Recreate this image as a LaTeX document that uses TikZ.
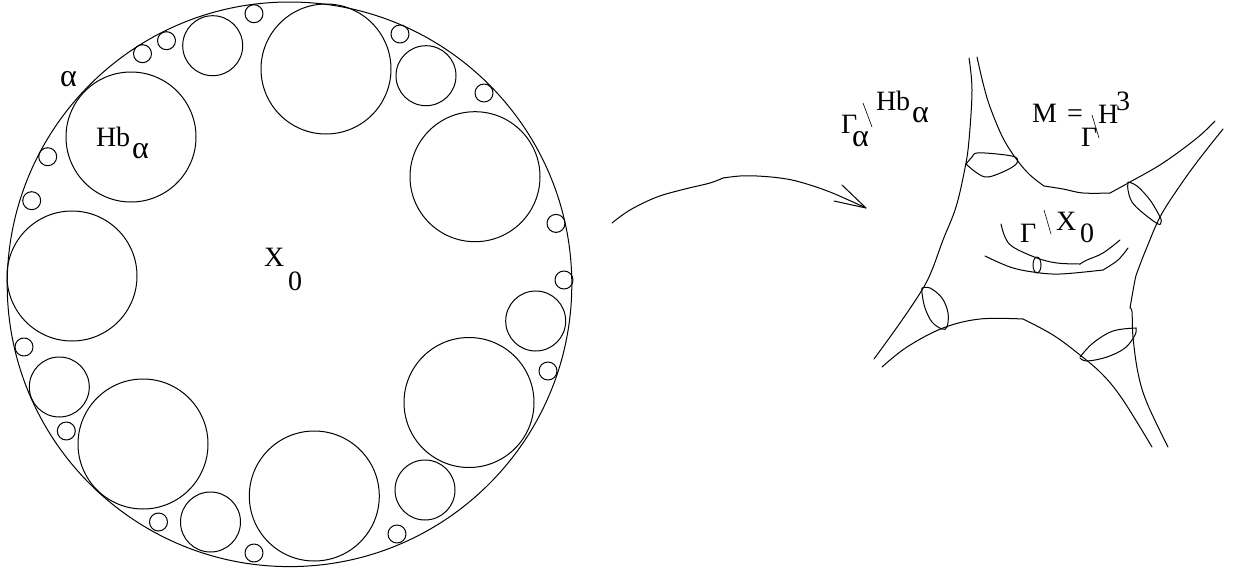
\documentclass[tikz,border=0pt]{standalone}
\usepackage{fontspec}
\setmainfont{Liberation Serif}
\newcommand{\ga}{\fontsize{32}{32}\selectfont α}
\tikzset{
  ln/.style={line width=1pt,line join=round,line cap=round,black},
  lbl/.style={anchor=base west,inner sep=0pt,outer sep=0pt,font=\fontsize{28}{28}\selectfont},
  cv/.style={ln,smooth,tension=0.6},
  slash/.style={line width=0.6pt,black},
}
\begin{document}
\begin{tikzpicture}[x=1pt,y=-1pt]
\useasboundingbox (0,0) rectangle (1235,573);
% disk
\draw[ln] (289.5,284.3) circle[radius=282.3];
\foreach \cx/\cy in {131/137,72/276,326/69,475/176.7,469/402.5,314.3/496,143/444}
  \draw[ln] (\cx,\cy) circle[radius=65];
\foreach \cx/\cy in {212.7/45.7,426/75.7,535.7/321,425/490,210.5/522,59.3/387}
  \draw[ln] (\cx,\cy) circle[radius=30];
\foreach \cx/\cy in {254/13.7,400/34,484/93,556/223.4,564/280,548/371,397/534,254/553,158.5/522,66.3/431,24/347,31.7/200.7,47.7/156.7,142.5/53.7,166.5/40.7}
  \draw[ln] (\cx,\cy) circle[radius=9];
% disk labels
\node[lbl] (alpha) at (60,86) {\ga};
\node[lbl] (hb) at (96,146) {Hb};
\node[lbl] (hbsub) at (132,158) {\ga};
\node[lbl] (x) at (264,266) {X};
\node[lbl] (xsub) at (288,290) {0};
% connector
\coordinate (s) at (612,223);
\coordinate (t) at (866,208);
\coordinate (b1) at (842,185);
\coordinate (b2) at (834,201);
\draw[cv] plot coordinates {(s) (630,210) (657,197) (685,189) (710,183) (723,178)};
\draw[cv] plot coordinates {(723,178) (740,176) (757,176) (780,178) (800,182) (830,192) (t)};
\draw[ln] (b1) -- (t) -- (b2);
% surface outline
\draw[cv] plot coordinates {(969,58) (972,90) (969,140) (965,168) (956,207) (943,240) (932,270) (922,290) (900,323) (874,359)};
\draw[cv] plot coordinates {(977,57) (983,83) (990,107) (1003,138) (1017,160) (1030,175) (1044,186)};
\draw[cv] plot coordinates {(1044,186) (1063,189) (1083,193) (1110,193)};
\draw[cv] plot coordinates {(1110,193) (1130,182) (1163,163) (1197,138) (1215,121)};
\draw[cv] plot coordinates {(1223,129) (1197,162) (1177,190) (1160,217) (1147,247) (1138,270) (1135,280) (1130,308)};
\draw[cv] plot coordinates {(1130,308) (1132,312) (1133,337) (1138,373) (1147,403) (1168,447)};
\draw[cv] plot coordinates {(882,367) (907,347) (943,328) (980,319) (1023,319)};
\draw[cv] plot coordinates {(1023,319) (1053,335) (1080,355) (1103,375) (1123,400) (1152,447)};
% cross sections
\draw[cv] plot coordinates {(966,164) (972,157) (977,153) (997,154) (1015,157) (1017,163) (1007,170) (988,177) (977,173) (966,164)};
\draw[cv] plot coordinates {(1128,182) (1137,186) (1150,200) (1160,217) (1161,222) (1158,224) (1143,213) (1132,202) (1128,190) (1128,182)};
\draw[cv] plot coordinates {(922,288) (930,288) (942,298) (948,313) (947,327) (942,329) (932,322) (925,308) (922,293) (922,288)};
\draw[cv] plot coordinates {(1080,357) (1093,343) (1113,331) (1136,328)};
\draw[cv] plot coordinates {(1136,328) (1135,335) (1125,348) (1107,357) (1087,361) (1080,358)};
% inner geodesic
\draw[cv] plot coordinates {(1001,224) (1005,237) (1013,247) (1037,258) (1057,263) (1080,264)};
\draw[cv] plot coordinates {(1080,264) (1087,260) (1103,253) (1120,240)};
\draw[cv] plot coordinates {(985,256) (1010,267) (1033,272) (1060,274) (1103,270)};
\draw[cv] plot coordinates {(1103,270) (1118,260) (1128,248)};
\draw[ln] (1037,265) ellipse[x radius=4,y radius=8];
% quotient labels
\node[lbl] (g1) at (841,133) {Γ};
\node[lbl] (g1s) at (852,146) {\ga};
\coordinate (q1a) at (863,103); \coordinate (q1b) at (872,127);
\draw[slash] (q1a) -- (q1b);
\node[lbl] (hb2) at (876,110) {Hb};
\node[lbl] (hb2s) at (912,122) {\ga};
\node[lbl] (m) at (1032,122) {M};
\node[lbl] (eq) at (1067,122) {=};
\node[lbl] (g2) at (1081,146) {Γ};
\coordinate (q2a) at (1092,115); \coordinate (q2b) at (1099,138);
\draw[slash] (q2a) -- (q2b);
\node[lbl] (h3) at (1098,123) {H};
\node[lbl] (h3s) at (1116,110) {3};
\node[lbl] (g3) at (1020,242) {Γ};
\coordinate (q3a) at (1044,210); \coordinate (q3b) at (1051,234);
\draw[slash] (q3a) -- (q3b);
\node[lbl] (x2) at (1056,230) {X};
\node[lbl] (x2s) at (1080,242) {0};
\end{tikzpicture}
\end{document}
